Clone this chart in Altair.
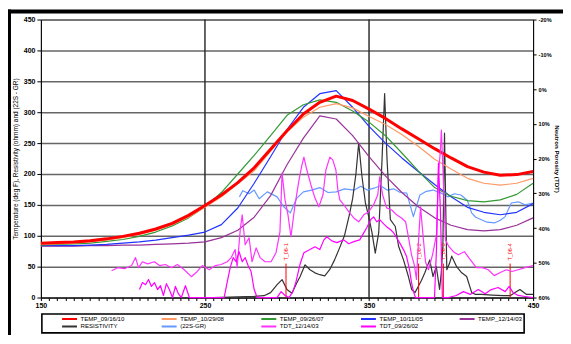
import altair as alt
import pandas as pd

FONT = "Liberation Sans"

# ---------------- data ----------------
x_temp = list(range(150, 451, 10))
temp_091610 = [88, 89, 90, 92, 95, 99, 104, 111, 120, 133, 149, 166, 186, 210, 240, 270, 297, 316, 326, 319, 305, 290, 273, 257, 241, 226, 212, 203, 198, 199, 204]
temp_102908 = [86, 87, 88, 90, 93, 97, 102, 109, 118, 130, 146, 163, 184, 205, 237, 268, 292, 308, 314, 307, 293, 280, 264, 245, 224, 208, 193, 185, 182, 185, 193]
temp_092607 = [85, 86, 87, 88, 91, 94, 99, 106, 116, 129, 147, 170, 200, 230, 262, 295, 312, 320, 316, 302, 284, 262, 234, 205, 178, 164, 157, 155, 158, 167, 185]
temp_101105 = [84, 84, 84, 85, 86, 88, 90, 93, 97, 101, 106, 118, 145, 185, 228, 272, 308, 330, 335, 308, 277, 250, 226, 204, 183, 163, 146, 138, 134, 138, 152]
temp_121403 = [83, 83, 83, 84, 84, 85, 85, 86, 87, 88, 90, 97, 109, 130, 165, 215, 258, 294, 289, 262, 228, 197, 170, 147, 129, 117, 110, 108, 110, 117, 129]

gr_x = [271, 273, 277, 280, 283, 288, 294, 298, 302, 306, 310, 315, 320, 325, 330, 335, 341, 345, 349, 353,
        357, 361, 365, 369, 373, 377, 381, 385, 389, 394, 398, 402, 406, 410, 412.5, 415, 418.5, 422, 426.7, 430,
        433, 436.7, 441, 445, 450]
gr_y = [163, 173, 168, 174, 160, 171, 163, 147, 137, 161, 171, 174, 178, 170, 171, 176, 174, 180, 174, 177,
        181, 174, 176, 170, 169, 131, 166, 172, 174, 169, 163, 168, 166, 157, 137, 130, 126, 122, 121, 125,
        131, 153, 155, 150, 153]

res_x = [255, 270, 280, 286, 290, 294, 297, 300, 303, 306, 308, 311, 314, 317, 320, 323, 326, 329, 332, 335,
         338, 340, 342, 343.7, 345.7, 347.8, 349.8, 351.8, 353.8, 355.9, 357.9, 359.5, 361, 363, 366, 368, 371, 374,
         376, 378, 380, 382, 384, 387, 389, 391, 393, 394, 395, 396, 397.4, 399, 400.4, 403.4, 406.5, 409.5, 412.6,
         415, 418.6, 425, 432, 436, 439, 442, 446, 450]
res_y = [0, 1, 2, 3, 8, 21, 29, 13, 7, 24, 34, 53, 45, 40, 37, 35, 45, 61, 80, 100,
         134, 160, 200, 250, 196, 153, 131, 105, 72, 105, 222, 330, 222, 126, 115, 83, 61, 34,
         13, 8, 18, 28, 40, 61, 34, 50, 13, 40, 83, 266, 45, 55, 67, 50, 40, 34, 8,
         5, 5, 4, 3, 3, 8, 13, 5, 5]

tdt1_x = [193.1, 196.8, 201.0, 205.3, 207.7, 209.5, 211.9, 215.0, 219.2, 222.3,
          225.9, 229.6, 233.2, 237.4, 241.7, 245.3, 248.4, 252.6, 256.3, 259.9,
          263.6, 266.0, 268.4, 269.6, 271.5, 272.7, 274.5, 276.9, 278.7, 281.2,
          283.6, 286.6, 290.3, 293.3, 295.7, 297.0, 298.8, 300.6, 302.4, 304.9,
          307.3, 309.1, 310.3, 312.1, 314.6, 317.0, 319.4, 321.9, 323.7, 326.1,
          327.9, 329.8, 331.0, 332.2, 334.6, 337.6, 340.7, 343.7, 346.8, 349.8,
          352.8, 355.3, 356.5, 358.3, 360.7, 363.8, 366.8, 369.8, 372.3, 374.1,
          375.9, 377.7, 378.9, 380.2, 381.4, 382.6, 384.4, 386.2, 388.7, 391.1,
          392.3, 393.5, 394.1, 395.3, 396.6, 398.4, 401.4, 404.4, 408.1, 411.7,
          415.4, 419.0, 422.7, 426.3, 430.0, 433.6, 437.2, 440.9, 445.1, 450.0]
tdt1_p = [52.3, 51.4, 51.7, 50.8, 48.5, 51.4, 49.7, 50.3, 49.7, 50.8,
          50.5, 51.4, 50.5, 52.0, 54.0, 52.5, 50.8, 52.0, 50.8, 50.5,
          49.7, 48.5, 46.2, 51.4, 40.5, 36.2, 44.8, 42.8, 49.7, 45.7,
          48.5, 49.7, 49.7, 47.1, 41.1, 24.2, 31.9, 36.2, 42.5, 33.3,
          26.2, 21.9, 19.6, 23.3, 27.6, 31.3, 33.9, 30.5, 23.3, 19.6,
          20.4, 23.3, 29.0, 31.9, 33.3, 35.3, 37.1, 38.2, 36.2, 35.3,
          33.3, 30.5, 25.3, 30.5, 34.2, 34.8, 36.2, 37.1, 38.2, 42.8,
          47.7, 50.8, 54.8, 43.4, 33.9, 40.5, 49.7, 52.0, 47.7, 41.9,
          24.7, 17.6, 11.8, 26.2, 43.4, 45.1, 46.8, 47.7, 46.8, 49.1,
          51.4, 51.4, 52.0, 53.7, 52.8, 52.0, 52.5, 52.0, 51.4, 50.8]

tdt2_x = [210.1, 211.9, 213.8, 215.6, 217.4, 219.2, 221.1, 222.9, 224.7, 226.5,
          228.3, 230.2, 232.0, 233.8, 235.6, 238.1, 240.5, 261.7, 263.6, 265.4,
          267.2, 269.0, 270.8, 272.7, 274.5, 276.3, 278.1, 280.0, 281.8, 293.9,
          296.4, 298.8, 301.2, 303.6, 305.5, 307.9, 310.3, 314.0, 317.0, 320.0,
          322.5, 324.3, 327.3, 330.4, 334.6, 337.6, 340.7, 344.3, 346.8, 348.6,
          351.0, 352.8, 354.7, 356.5, 358.9, 360.7, 363.2, 365.0, 366.8, 368.6,
          371.0, 372.9, 374.7, 375.9, 377.1, 378.3, 389.9, 391.1, 392.3, 393.5,
          394.7, 398.4, 403.2, 407.5, 411.7, 416.6, 420.8, 424.5, 428.7, 433.0,
          435.4, 437.8, 440.9, 445.1, 450.0]
tdt2_p = [57.7, 55.7, 56.3, 54.8, 56.8, 55.7, 57.7, 56.6, 59.4, 56.0,
          57.7, 60.0, 56.8, 58.9, 60.0, 56.6, 60.0, 60.0, 55.4, 51.4,
          48.5, 49.7, 46.8, 49.7, 48.5, 50.8, 52.5, 57.7, 60.0, 60.0,
          58.3, 59.4, 60.0, 58.3, 55.4, 50.5, 47.1, 46.2, 45.4, 46.2,
          43.4, 42.5, 43.7, 44.2, 43.4, 44.5, 43.9, 43.4, 41.4, 39.9,
          37.6, 36.8, 38.2, 37.6, 38.8, 39.6, 40.5, 41.4, 42.8, 44.2,
          46.2, 48.2, 52.0, 55.7, 58.3, 60.0, 60.0, 46.2, 21.3, 34.8,
          60.0, 60.0, 59.4, 58.3, 59.1, 57.7, 58.9, 57.7, 57.1, 58.3,
          56.8, 58.6, 59.4, 59.7, 60.0]

marker_x = [299.4, 380.2, 395.3, 436.0]
marker_label = ["T_06-1", "T_06-2", "T_06-3", "T_06-4"]
marker_top = [55, 55, 55, 55]

series_names = ["TEMP_09/16/10", "TEMP_10/29/08", "TEMP_09/26/07", "TEMP_10/11/05", "TEMP_12/14/03",
                "RESISTIVITY", "(22S-GR)", "TDT_12/14/03", "TDT_09/26/02"]
series_colors = ["#ff0000", "#ff9966", "#339933", "#2233ff", "#993399",
                 "#333333", "#6699ff", "#ff33ff", "#ff00ff"]

# ---------------- tables ----------------
thin_rows = []
for name, xs, ys in [("(22S-GR)", gr_x, gr_y), ("RESISTIVITY", res_x, res_y),
                     ("TEMP_12/14/03", x_temp, temp_121403), ("TEMP_10/11/05", x_temp, temp_101105),
                     ("TEMP_09/26/07", x_temp, temp_092607), ("TEMP_10/29/08", x_temp, temp_102908)]:
    for a, b in zip(xs, ys):
        thin_rows.append({"x": a, "y": b, "series": name})
thin_df = pd.DataFrame(thin_rows)
red_df = pd.DataFrame({"x": x_temp, "y": temp_091610, "series": "TEMP_09/16/10"})

tdt_rows = []
for name, xs, ps in [("TDT_12/14/03", tdt1_x, tdt1_p), ("TDT_09/26/02", tdt2_x, tdt2_p)]:
    for a, b in zip(xs, ps):
        tdt_rows.append({"x": a, "p": b, "series": name})
tdt_df = pd.DataFrame(tdt_rows)

marker_df = pd.DataFrame({"x": marker_x, "label": marker_label, "y0": [0] * 4, "y1": marker_top})
vgrid_df = pd.DataFrame({"x": [250, 350]})
dummy = pd.DataFrame({"a": [0]})

# ---------------- scales / axes ----------------
x_scale = alt.Scale(domain=[150, 450], nice=False, zero=False)
y_scale = alt.Scale(domain=[0, 450], nice=False)
p_scale = alt.Scale(domain=[-20, 60], nice=False, reverse=True, zero=False)
color_scale = alt.Scale(domain=series_names, range=series_colors)

legend = alt.Legend(
    title=None, orient="none", legendX=1, legendY=295.5, direction="horizontal", columns=5,
    symbolType="M7.85,0H15.35", symbolSize=16, symbolStrokeWidth=2,
    labelOffset=31.2, labelFont=FONT, labelFontSize=6.1, labelColor="black",
    columnPadding=18, rowPadding=-3.5, padding=1.5, strokeColor="black", fillColor="white",
    labelLimit=200,
)

x_axis = alt.Axis(
    values=list(range(150, 451, 5)),
    labelExpr="datum.value % 100 == 50 ? datum.label : ''",
    labelOverlap=False, labelFlush=False, grid=False, tickSize=3, tickColor="black",
    domainColor="black", labelFont=FONT, labelFontSize=7, labelFontWeight="bold",
    labelPadding=1, title=None,
)
y_axis = alt.Axis(
    values=list(range(0, 451, 50)), labelOverlap=False, grid=True, gridColor="#666666", gridWidth=1.5,
    tickSize=4, tickColor="black", domainColor="black", labelFont=FONT, labelFontSize=7,
    labelFontWeight="bold", labelPadding=2, title="Temperature (deg F), Resistivity (ohmm) and (22S - GR)",
    titleFont=FONT, titleFontSize=6.5, titleFontWeight="normal", titlePadding=5, titleColor="black",
)
p_axis = alt.Axis(
    orient="right", values=list(range(-20, 61, 10)), labelExpr="datum.value + '%'", labelOverlap=False,
    grid=False, tickSize=3, tickColor="black", domainColor="black", labelFont=FONT,
    labelFontSize=5.6, labelFontWeight="bold", labelPadding=2, labelColor="black",
    title="Neutron Porosity (TDT)", titleFont=FONT, titleFontSize=6.2, titleFontWeight="bold",
    titlePadding=2, titleColor="black",
)

X = alt.X("x:Q", scale=x_scale, axis=x_axis)

# ---------------- layers ----------------
vgrid = alt.Chart(vgrid_df).mark_rule(color="#222222", strokeWidth=1.4).encode(x=X)

thin_lines = alt.Chart(thin_df).mark_line(strokeJoin="round", strokeWidth=1.2).encode(
    x=X,
    y=alt.Y("y:Q", scale=y_scale, axis=y_axis),
    color=alt.Color("series:N", scale=color_scale, legend=legend),
    order=alt.Order("x:Q"),
)
red_line = alt.Chart(red_df).mark_line(strokeJoin="round", strokeWidth=3).encode(
    x=X,
    y=alt.Y("y:Q", scale=y_scale, axis=y_axis),
    color=alt.Color("series:N", scale=color_scale, legend=legend),
    order=alt.Order("x:Q"),
)

marker_rules = alt.Chart(marker_df).mark_rule(color="#ff0000", strokeWidth=1).encode(
    x=X, y=alt.Y("y0:Q", scale=y_scale, axis=y_axis), y2="y1:Q"
)
marker_text = alt.Chart(marker_df).mark_text(
    color="#ff0000", angle=270, align="left", baseline="middle", dx=3, font=FONT, fontSize=5.5
).encode(x=X, y=alt.Y("y1:Q", scale=y_scale, axis=y_axis), text="label:N")

frame_top = alt.Chart(dummy).mark_rule(color="black", strokeWidth=4).encode(
    x=alt.value(-33), x2=alt.value(540), y=alt.value(-8)
)
frame_left = alt.Chart(dummy).mark_rule(color="black", strokeWidth=3).encode(
    x=alt.value(-31.5), y=alt.value(-10), y2=alt.value(330)
)

left_layer = alt.layer(vgrid, thin_lines, red_line, marker_rules, marker_text, frame_top, frame_left)

tdt_lines = alt.Chart(tdt_df).mark_line(strokeWidth=1.2, strokeJoin="round").encode(
    x=X,
    y=alt.Y("p:Q", scale=p_scale, axis=p_axis),
    color=alt.Color("series:N", scale=color_scale, legend=legend),
    order=alt.Order("x:Q"),
)

chart = alt.layer(left_layer, tdt_lines).resolve_scale(y="independent").properties(
    width=494, height=279,
    autosize=alt.AutoSizeParams(type="none"),
    padding={"left": 33, "top": 11, "right": 30, "bottom": 37},
    background="white",
).configure_view(stroke="#555555", strokeWidth=1).configure_legend(strokeWidth=1.6)

chart.save("out.html", embed_options={"renderer": "svg", "actions": False})
